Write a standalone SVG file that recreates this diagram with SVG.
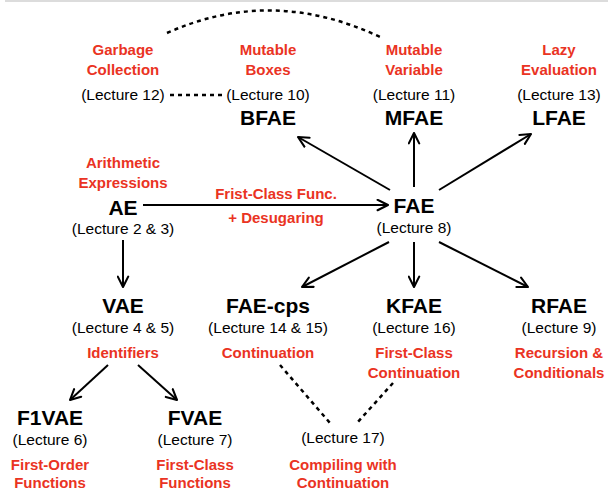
<svg xmlns="http://www.w3.org/2000/svg" width="608" height="492" viewBox="0 0 608 492">
<style>
.n{font-family:"Liberation Sans",Arial,sans-serif;font-weight:bold;font-size:21px;fill:#000;text-anchor:middle}
.l{font-family:"Liberation Sans",Arial,sans-serif;font-size:15.5px;fill:#000;text-anchor:middle}
.r{font-family:"Liberation Sans",Arial,sans-serif;font-weight:bold;font-size:15px;fill:#ea3323;text-anchor:middle}
.a{stroke:#000;stroke-width:2;fill:none;marker-end:url(#ah)}
.d{stroke:#000;stroke-width:2.5;fill:none;stroke-dasharray:4 4}
</style>
<defs>
<marker id="ah" viewBox="0 0 10 10" refX="9" refY="5" markerWidth="6.5" markerHeight="6.5" orient="auto" markerUnits="strokeWidth">
<polyline points="1,1 9,5 1,9" fill="none" stroke="#000" stroke-width="1.6" stroke-linecap="round" stroke-linejoin="round"/>
</marker>
</defs>
<rect x="5" y="0" width="603" height="2" fill="#dcdcdc"/>
<g id="connectors">
<path class="d" d="M167,33 Q272,-14 380,37"/>
<line class="d" x1="170" y1="95" x2="223" y2="95"/>
<line class="d" x1="280" y1="365" x2="330" y2="423"/>
<line class="d" x1="393" y1="383" x2="357" y2="423"/>
<line class="a" x1="143" y1="205" x2="388" y2="205"/>
<line class="a" x1="123" y1="240" x2="123" y2="287"/>
<line class="a" x1="390" y1="190" x2="298" y2="137"/>
<line class="a" x1="414" y1="187" x2="414" y2="133"/>
<line class="a" x1="439" y1="190" x2="531" y2="134"/>
<line class="a" x1="389" y1="242" x2="302" y2="287"/>
<line class="a" x1="414" y1="242" x2="414" y2="287"/>
<line class="a" x1="439" y1="242" x2="528" y2="287"/>
<line class="a" x1="108" y1="365" x2="70" y2="400"/>
<line class="a" x1="138" y1="365" x2="177" y2="400"/>
<text class="r" x="276" y="199">Frist-Class Func.</text>
<text class="r" x="276" y="223">+ Desugaring</text>
</g>
<g id="gc">
<text class="r" x="123" y="55">Garbage</text>
<text class="r" x="123" y="75">Collection</text>
<text class="l" x="123" y="100">(Lecture 12)</text>
</g>
<g id="bfae">
<text class="r" x="268" y="55">Mutable</text>
<text class="r" x="268" y="75">Boxes</text>
<text class="l" x="268" y="100">(Lecture 10)</text>
<text class="n" x="268" y="125">BFAE</text>
</g>
<g id="mfae">
<text class="r" x="414" y="55">Mutable</text>
<text class="r" x="414" y="75">Variable</text>
<text class="l" x="414" y="100">(Lecture 11)</text>
<text class="n" x="414" y="125">MFAE</text>
</g>
<g id="lfae">
<text class="r" x="559" y="55">Lazy</text>
<text class="r" x="559" y="75">Evaluation</text>
<text class="l" x="559" y="100">(Lecture 13)</text>
<text class="n" x="559" y="125">LFAE</text>
</g>
<g id="ae">
<text class="r" x="123" y="168">Arithmetic</text>
<text class="r" x="123" y="188">Expressions</text>
<text class="n" x="123" y="215">AE</text>
<text class="l" x="123" y="234">(Lecture 2 &amp; 3)</text>
</g>
<g id="fae">
<text class="n" x="414" y="213">FAE</text>
<text class="l" x="414" y="233">(Lecture 8)</text>
</g>
<g id="vae">
<text class="n" x="123" y="313">VAE</text>
<text class="l" x="123" y="333">(Lecture 4 &amp; 5)</text>
<text class="r" x="123" y="358">Identifiers</text>
</g>
<g id="faecps">
<text class="n" x="268" y="313">FAE-cps</text>
<text class="l" x="268" y="333">(Lecture 14 &amp; 15)</text>
<text class="r" x="268" y="358">Continuation</text>
</g>
<g id="kfae">
<text class="n" x="414" y="313">KFAE</text>
<text class="l" x="414" y="333">(Lecture 16)</text>
<text class="r" x="414" y="358">First-Class</text>
<text class="r" x="414" y="378">Continuation</text>
</g>
<g id="rfae">
<text class="n" x="559" y="313">RFAE</text>
<text class="l" x="559" y="333">(Lecture 9)</text>
<text class="r" x="559" y="358">Recursion &amp;</text>
<text class="r" x="559" y="378">Conditionals</text>
</g>
<g id="f1vae">
<text class="n" x="50" y="425">F1VAE</text>
<text class="l" x="50" y="445">(Lecture 6)</text>
<text class="r" x="50" y="470">First-Order</text>
<text class="r" x="50" y="488">Functions</text>
</g>
<g id="fvae">
<text class="n" x="195" y="425">FVAE</text>
<text class="l" x="195" y="445">(Lecture 7)</text>
<text class="r" x="195" y="470">First-Class</text>
<text class="r" x="195" y="488">Functions</text>
</g>
<g id="compile">
<text class="l" x="343" y="443">(Lecture 17)</text>
<text class="r" x="343" y="470">Compiling with</text>
<text class="r" x="343" y="488">Continuation</text>
</g>
</svg>
